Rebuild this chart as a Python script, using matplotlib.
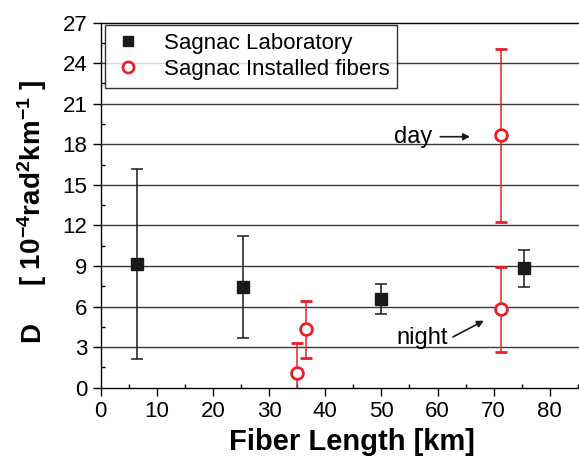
import numpy as np
import matplotlib
matplotlib.use("Agg")
import matplotlib.pyplot as plt
from matplotlib.lines import Line2D

plt.rcParams['font.family'] = ['Liberation Sans', 'DejaVu Sans']
plt.rcParams['mathtext.fontset'] = 'custom'
plt.rcParams['mathtext.rm'] = 'Liberation Sans:bold'
plt.rcParams['mathtext.bf'] = 'Liberation Sans:bold'
plt.rcParams['mathtext.default'] = 'bf'

# Sagnac Laboratory (black squares)
lab_x = [6.5, 25.4, 50.0, 75.4]
lab_y = [9.17, 7.47, 6.54, 8.83]
lab_top = [16.18, 11.22, 7.65, 10.18]
lab_bot = [2.12, 3.65, 5.45, 7.42]

# Sagnac Installed fibers (red open circles)
inst_x = [35.0, 36.5, 71.3, 71.3]
inst_y = [1.06, 4.30, 5.80, 18.69]
inst_top = [3.28, 6.41, 8.93, 25.05]
inst_bot = [-1.5, 2.20, 2.65, 12.26]

red = '#e8202a'
dark = '#1a1a1a'

fig = plt.figure(figsize=(5.79, 4.62), dpi=100)
ax = fig.add_axes([0.174, 0.161, 0.826, 0.790])

# grid lines behind the data
for yv in range(3, 27, 3):
    ax.axhline(yv, color='#3a3a3a', lw=1.0, zorder=0)

lab_err = [np.array(lab_y) - np.array(lab_bot), np.array(lab_top) - np.array(lab_y)]
inst_err = [np.array(inst_y) - np.array(inst_bot), np.array(inst_top) - np.array(inst_y)]

ax.errorbar(lab_x, lab_y, yerr=lab_err, fmt='s', color=dark, ms=8,
            ecolor=dark, elinewidth=1.1, capsize=4, capthick=1.1, zorder=3)
ax.errorbar(inst_x, inst_y, yerr=inst_err, fmt='o', mfc='white', mec=red,
            mew=2.0, ms=8.5, ecolor=red, elinewidth=1.1, capsize=4,
            capthick=1.1, zorder=3)

ax.set_xlim(0, 85.2)
ax.set_ylim(0, 27)
ax.set_xticks(range(0, 81, 10))
ax.set_xticks(range(5, 86, 10), minor=True)
ax.set_yticks(range(0, 28, 3))
ax.set_yticks(np.arange(1.5, 27, 3), minor=True)
ax.tick_params(which='major', direction='out', length=6, width=1,
               labelsize=16, top=False, right=False)
ax.tick_params(which='minor', direction='in', length=3, width=1,
               top=False, right=False)
ax.spines['right'].set_visible(False)
for s in ['left', 'bottom', 'top']:
    ax.spines[s].set_linewidth(1.0)

ax.set_xlabel('Fiber Length [km]', fontsize=21, fontweight='bold')
ax.xaxis.set_label_coords(0.525, -0.112)
fig.text(0.055, 0.281, 'D', rotation=90, fontsize=20, fontweight='bold',
         ha='center', va='center')
fig.text(0.055, 0.604, '[ 10$^{-4}$rad$^{2}$km$^{-1}$ ]', rotation=90,
         fontsize=20, fontweight='bold', ha='center', va='center')

ax.annotate('', xy=(66.3, 18.56), xytext=(60.0, 18.56),
            arrowprops=dict(arrowstyle='-|>', color=dark, lw=1.2,
                            mutation_scale=10))
ax.text(59.0, 18.56, 'day', fontsize=17, ha='right', va='center')
ax.annotate('', xy=(68.7, 5.05), xytext=(62.3, 3.65),
            arrowprops=dict(arrowstyle='-|>', color=dark, lw=1.2,
                            mutation_scale=10))
ax.text(61.8, 3.67, 'night', fontsize=17, ha='right', va='center')

handles = [Line2D([], [], ls='none', marker='s', color=dark, ms=7),
           Line2D([], [], ls='none', marker='o', mfc='white', mec=red,
                  mew=2.0, ms=8)]
leg = ax.legend(handles, ['Sagnac Laboratory', 'Sagnac Installed fibers'],
                loc='upper left', bbox_to_anchor=(0.009, 0.994),
                borderaxespad=0, fontsize=16, frameon=True, fancybox=False,
                edgecolor='black', handletextpad=0.9, borderpad=0.35,
                labelspacing=0.25, handlelength=1.4)
leg.get_frame().set_linewidth(1.0)
leg.set_zorder(5)

fig.savefig('out.png', dpi=100)
